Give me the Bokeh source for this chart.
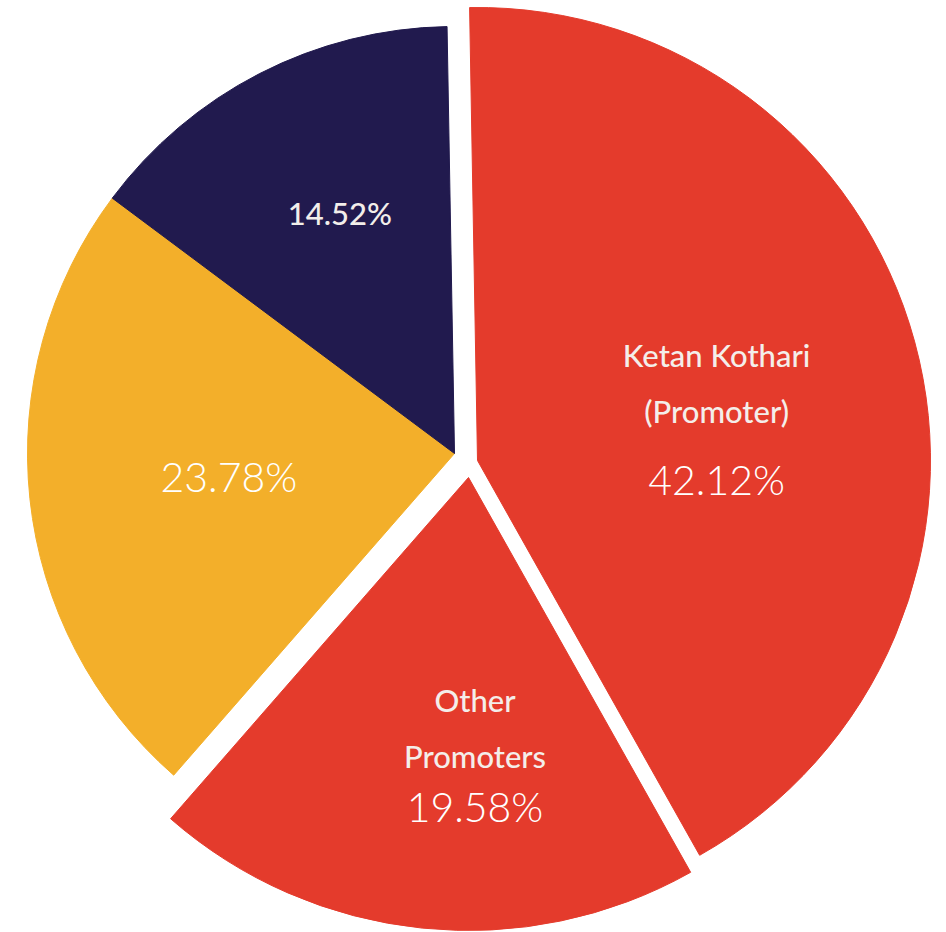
import numpy as np
from bokeh.plotting import figure
from bokeh.models import ColumnDataSource, Range1d
from bokeh.embed import file_html
from bokeh.resources import INLINE

# ---------------- data ----------------
slice_names = ["Ketan Kothari (Promoter)", "Other Promoters", "Group 3", "Group 4"]
name_lines = [["Ketan Kothari", "(Promoter)"], ["Other", "Promoters"], [], []]
shares = [42.12, 19.58, 23.78, 14.52]
pct_labels = ["42.12%", "19.58%", "23.78%", "14.52%"]

# ---------------- style ----------------
colors = ["#E43B2C", "#E43B2C", "#F3AF2A", "#211A4E"]
radius = [453, 453, 427, 427]          # px-based data units
explode_dx = [23, 14, 0, 0]
explode_dy = [-7, -24, 0, 0]
label_r = [240, 331, 227, 265]
label_nudge_deg = [-20.2, 7.0, 0.2, -1.5]
pct_font = ["Lato Light", "Lato Light", "Lato Light", "Lato Medium"]
pct_size = ["41px", "41px", "41px", "31px"]
pct_color = ["#FFFFFF", "#FFFFFF", "#FFFFFF", "#F2EEEA"]
name_gap_first = [-124, -106, 0, 0]    # px offset of first name line from % label
name_line_step = 56
text_shift = -2                        # px, baseline correction
start_deg = 91.0

# ---------------- geometry ----------------
shares_arr = np.array(shares)
sweep = shares_arr / shares_arr.sum() * 360.0
start = start_deg - np.concatenate([[0], np.cumsum(sweep)[:-1]])
end = start - sweep
mid = (start + end) / 2.0

wedges = ColumnDataSource(dict(
    x=explode_dx, y=explode_dy, r=radius,
    start=np.deg2rad(start), end=np.deg2rad(end),
    color=colors, name=slice_names,
))

la = np.deg2rad(mid + np.array(label_nudge_deg))
lx = np.array(explode_dx) + np.array(label_r) * np.cos(la)
ly = np.array(explode_dy) + np.array(label_r) * np.sin(la)

pct_src = ColumnDataSource(dict(
    x=lx, y=ly, text=pct_labels, font=pct_font, size=pct_size, color=pct_color,
))

nx, ny, nt, noff = [], [], [], []
for i, lines in enumerate(name_lines):
    for j, t in enumerate(lines):
        nx.append(lx[i]); ny.append(ly[i]); nt.append(t)
        noff.append(name_gap_first[i] + j * name_line_step + text_shift)
name_src = ColumnDataSource(dict(x=nx, y=ny, text=nt, yoff=noff,
                                 font=["Lato Medium"] * len(nt)))

# ---------------- figure ----------------
p = figure(width=946, height=932, output_backend="svg", toolbar_location=None,
           x_range=Range1d(-454, 492), y_range=Range1d(-479, 453),
           x_axis_location=None, y_axis_location=None, min_border=0,
           background_fill_color="white", border_fill_color="white")
p.outline_line_color = None
p.grid.visible = False

p.wedge(x="x", y="y", radius="r", start_angle="start", end_angle="end",
        direction="clock", fill_color="color", line_color="color", line_width=1,
        source=wedges)

p.text(x="x", y="y", text="text", text_font="font", text_font_size="size",
       text_color="color", text_align="center", text_baseline="middle",
       y_offset=text_shift, source=pct_src)

p.text(x="x", y="y", text="text", y_offset="yoff", text_font="font",
       text_font_size="31px", text_color="#F4EEEA", text_align="center",
       text_baseline="middle", source=name_src)

open("out.html", "w").write(file_html(p, INLINE))
